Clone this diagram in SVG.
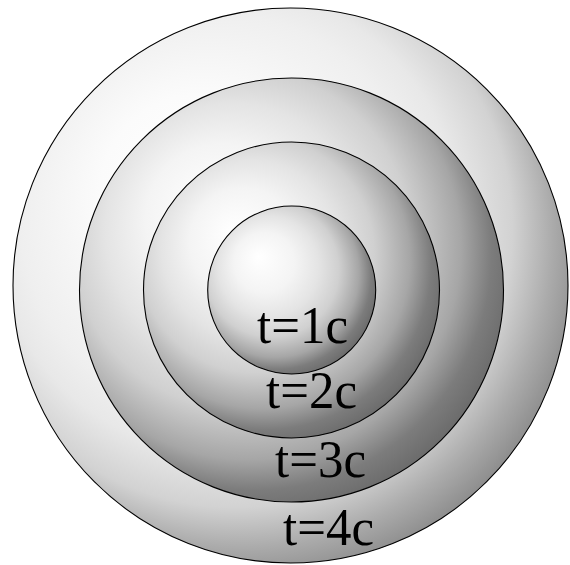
<svg xmlns="http://www.w3.org/2000/svg" width="570" height="565" viewBox="0 0 570 565">
  <style>
    .ball { stroke: #000; stroke-width: 1.1; }
    .lbl { font-family: "Liberation Serif", "DejaVu Serif", serif; font-size: 52px; fill: #000; }
  </style>
  <defs>
    <radialGradient id="g4" cx="0.5" cy="0.5" r="1" fx="0.3" fy="0.3">
      <stop offset="0" stop-color="#ffffff"/>
      <stop offset="0.18" stop-color="#fbfbfb"/>
      <stop offset="0.36" stop-color="#efefef"/>
      <stop offset="0.42" stop-color="#e8e8e8"/>
      <stop offset="0.5" stop-color="#d2d2d2"/>
      <stop offset="0.56" stop-color="#ababab"/>
      <stop offset="0.62" stop-color="#888888"/>
      <stop offset="1" stop-color="#444444"/>
    </radialGradient>
    <radialGradient id="g" cx="0.5" cy="0.5" r="1" fx="0.3" fy="0.3">
      <stop offset="0" stop-color="#ffffff"/>
      <stop offset="0.18" stop-color="#f4f4f4"/>
      <stop offset="0.3" stop-color="#e4e4e4"/>
      <stop offset="0.4" stop-color="#d0d0d0"/>
      <stop offset="0.5" stop-color="#a6a6a6"/>
      <stop offset="0.56" stop-color="#7c7c7c"/>
      <stop offset="0.62" stop-color="#686868"/>
      <stop offset="1" stop-color="#303030"/>
    </radialGradient>
  </defs>
  <g id="sphere-4c">
    <circle class="ball" cx="290.5" cy="285.5" r="277.5" fill="url(#g4)"/>
    <text class="lbl" x="283" y="545" textLength="91" lengthAdjust="spacingAndGlyphs">t=4c</text>
  </g>
  <g id="sphere-3c">
    <circle class="ball" cx="291.5" cy="290" r="212" fill="url(#g)"/>
    <text class="lbl" x="275" y="477" textLength="91" lengthAdjust="spacingAndGlyphs">t=3c</text>
  </g>
  <g id="sphere-2c">
    <circle class="ball" cx="291.5" cy="290" r="148" fill="url(#g)"/>
    <text class="lbl" x="266" y="408" textLength="91" lengthAdjust="spacingAndGlyphs">t=2c</text>
  </g>
  <g id="sphere-1c">
    <circle class="ball" cx="291.7" cy="290" r="84" fill="url(#g)"/>
    <text class="lbl" x="257" y="343" textLength="91" lengthAdjust="spacingAndGlyphs">t=1c</text>
  </g>
</svg>
